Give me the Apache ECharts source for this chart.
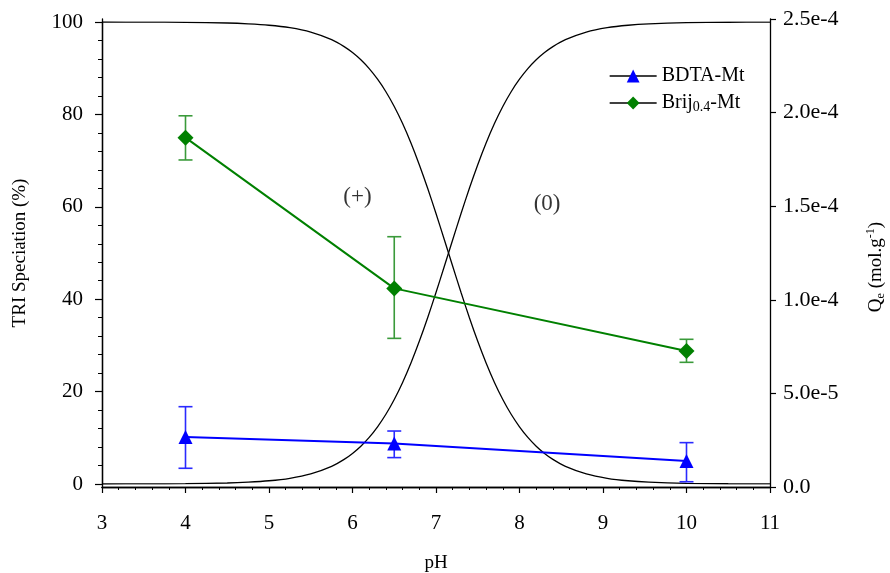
<!DOCTYPE html>
<html><head><meta charset="utf-8">
<script src="https://cdn.jsdelivr.net/npm/echarts@6/dist/echarts.min.js"></script>
<style>html,body{margin:0;padding:0;background:#fff;overflow:hidden}#c{width:890px;height:573px}</style>
</head><body><div id="c"></div>
<script>
// ---- data ----
var phCurve = [3, 3.5, 4, 4.5, 4.75, 5, 5.25, 5.5, 5.75, 5.9, 6, 6.1, 6.2, 6.3, 6.4, 6.5, 6.6, 6.7, 6.8, 6.9, 7, 7.1, 7.2, 7.3, 7.4, 7.5, 7.6, 7.7, 7.8, 7.9, 8, 8.1, 8.2, 8.3, 8.4, 8.55, 8.8, 9.05, 9.3, 9.55, 10, 10.5, 11];
var cationic = [100, 99.98, 99.93, 99.78, 99.6, 99.3, 98.76, 97.81, 96.17, 94.68, 93.39, 91.82, 89.91, 87.62, 84.91, 81.71, 78.02, 73.81, 69.12, 64.01, 58.55, 52.88, 47.12, 41.45, 35.99, 30.88, 26.19, 21.98, 18.29, 15.09, 12.38, 10.09, 8.18, 6.61, 5.32, 3.83, 2.19, 1.24, 0.7, 0.4, 0.14, 0.05, 0.01];
var neutral = [0, 0.02, 0.07, 0.22, 0.4, 0.7, 1.24, 2.19, 3.83, 5.32, 6.61, 8.18, 10.09, 12.38, 15.09, 18.29, 21.98, 26.19, 30.88, 35.99, 41.45, 47.12, 52.88, 58.55, 64.01, 69.12, 73.81, 78.02, 81.71, 84.91, 87.62, 89.91, 91.82, 93.39, 94.68, 96.17, 97.81, 98.76, 99.3, 99.6, 99.86, 99.95, 99.99];
var phSamples = [4, 6.5, 10];
var bdtaQe = [2.67e-5, 2.33e-5, 1.39e-5];
var bdtaLow = [1.00e-5, 1.57e-5, 0.28e-5];
var bdtaHigh = [4.29e-5, 2.99e-5, 2.37e-5];
var brijQe = [18.66e-5, 10.61e-5, 7.26e-5];
var brijLow = [17.47e-5, 7.94e-5, 6.66e-5];
var brijHigh = [19.83e-5, 13.37e-5, 7.89e-5];
var xTickLabels = ['3','4','5','6','7','8','9','10','11'];
var leftTickLabels = ['0','20','40','60','80','100'];
var rightTickLabels = ['0.0','5.0e-5','1.0e-4','1.5e-4','2.0e-4','2.5e-4'];
var regionLabels = [[6.06, 62.1, '(+)'], [8.33, 60.6, '(0)']];

var FONT = 'Liberation Serif';
function pairs(xs, ys){ return xs.map(function(x,i){ return [x, ys[i]]; }); }
function errData(xs, lo, hi){ return xs.map(function(x,i){ return [x, lo[i], hi[i]]; }); }
function errRender(color){
  return function(params, api){
    var x = api.value(0);
    var p1 = api.coord([x, api.value(1)]);
    var p2 = api.coord([x, api.value(2)]);
    var hw = 7;
    var st = {stroke: color, lineWidth: 1.6};
    return {type:'group', children:[
      {type:'line', shape:{x1:p1[0], y1:p1[1], x2:p2[0], y2:p2[1]}, style:st},
      {type:'line', shape:{x1:p1[0]-hw, y1:p1[1], x2:p1[0]+hw, y2:p1[1]}, style:st},
      {type:'line', shape:{x1:p2[0]-hw, y1:p2[1], x2:p2[0]+hw, y2:p2[1]}, style:st}
    ]};
  };
}

var chart = echarts.init(document.getElementById('c'), null, {renderer:'canvas'});
var axisLineStyle = {color:'#000', width:1.3};
var option = {
  animation:false,
  backgroundColor:'#fff',
  textStyle:{fontFamily:FONT},
  grid:[
    {left:102, right:120, top:19, bottom:86, containLabel:false, outerBoundsMode:'none'},
    {left:102, right:120, top:22, bottom:89, containLabel:false, outerBoundsMode:'none'}
  ],
  legend:{
    orient:'vertical', left:604, top:61, itemWidth:47, itemHeight:16, itemGap:7,
    textStyle:{fontFamily:FONT, fontSize:20, color:'#000',
      rich:{t:{fontFamily:FONT, fontSize:20, color:'#000'}, sub:{fontFamily:FONT, fontSize:14, color:'#000', verticalAlign:'bottom', padding:[9,0,0,0]}}},
    formatter:function(n){ return n === 'Brij0.4-Mt' ? '{t|Brij}{sub|0.4}{t|-Mt}' : '{t|' + n + '}'; },
    data:[
      {name:'BDTA-Mt', lineStyle:{color:'#000', width:1.3}},
      {name:'Brij0.4-Mt', lineStyle:{color:'#000', width:1.3}}
    ]
  },
  xAxis:[
    {gridIndex:0, type:'value', min:3, max:11, interval:1, position:'bottom',
      name:'pH', nameLocation:'middle', nameGap:67, nameTextStyle:{fontFamily:FONT, fontSize:19, color:'#000'},
      axisLine:{show:true, lineStyle:axisLineStyle},
      axisTick:{show:true, inside:false, length:6, lineStyle:{color:'#000', width:1.2}},
      minorTick:{show:true, splitNumber:5, length:3, lineStyle:{color:'#000', width:1}},
      axisLabel:{margin:26, fontFamily:FONT, fontSize:21, color:'#000',
        formatter:function(v){ return xTickLabels[Math.round(v-3)]; }},
      splitLine:{show:false}},
    {gridIndex:0, type:'value', min:3, max:11, position:'top',
      axisLine:{show:true, lineStyle:axisLineStyle}, axisTick:{show:false}, axisLabel:{show:false}, splitLine:{show:false}},
    {gridIndex:1, type:'value', min:3, max:11, show:false}
  ],
  yAxis:[
    {gridIndex:1, type:'value', min:0, max:100, interval:20, position:'left',
      name:'TRI Speciation (%)', nameLocation:'middle', nameGap:72, nameRotate:90,
      nameTextStyle:{fontFamily:FONT, fontSize:19, color:'#000'},
      axisLine:{show:true, lineStyle:axisLineStyle},
      axisTick:{show:true, inside:false, length:7, lineStyle:{color:'#000', width:1.2}},
      minorTick:{show:true, splitNumber:5, length:4, lineStyle:{color:'#000', width:1}},
      axisLabel:{margin:19, fontFamily:FONT, fontSize:21, color:'#000',
        formatter:function(v){ return leftTickLabels[Math.round(v/20)]; }},
      splitLine:{show:false}},
    {gridIndex:0, type:'value', min:0, max:2.5e-4, interval:5e-5, position:'right',
      name:'{t|Q}{sub|e}{t| (mol.g}{sup|-1}{t|)}', nameLocation:'middle', nameGap:95, nameRotate:90,
      nameTextStyle:{fontFamily:FONT, fontSize:19, color:'#000', padding:[0,28,0,0],
        rich:{t:{fontFamily:FONT, fontSize:19, color:'#000'},
              sub:{fontFamily:FONT, fontSize:12, color:'#000', verticalAlign:'bottom', padding:[10,0,0,0]},
              sup:{fontFamily:FONT, fontSize:12, color:'#000', verticalAlign:'top', padding:[0,0,10,0]}}},
      axisLine:{show:true, lineStyle:axisLineStyle},
      axisTick:{show:true, inside:false, length:6, lineStyle:{color:'#000', width:1.2}},
      minorTick:{show:false},
      axisLabel:{margin:13, fontFamily:FONT, fontSize:22, color:'#000',
        formatter:function(v){ return rightTickLabels[Math.round(v/5e-5)]; }},
      splitLine:{show:false}},
    {gridIndex:0, type:'value', min:0, max:1, position:'left',
      axisLine:{show:true, lineStyle:axisLineStyle}, axisTick:{show:false}, axisLabel:{show:false}, splitLine:{show:false}}
  ],
  series:[
    {name:'cationic', type:'line', xAxisIndex:2, yAxisIndex:0, data:pairs(phCurve, cationic),
      smooth:0.3, showSymbol:false, symbol:'none', lineStyle:{color:'#000', width:1.3}, z:1},
    {name:'neutral', type:'line', xAxisIndex:2, yAxisIndex:0, data:pairs(phCurve, neutral),
      smooth:0.3, showSymbol:false, symbol:'none', lineStyle:{color:'#000', width:1.3}, z:1},
    {name:'labels', type:'scatter', xAxisIndex:2, yAxisIndex:0, symbolSize:0, data:regionLabels,
      label:{show:true, position:'inside', fontFamily:FONT, fontSize:23, color:'#000', formatter:function(p){ return p.data[2]; }}},
    {name:'BDTA-err', type:'custom', xAxisIndex:0, yAxisIndex:1, renderItem:errRender('#2a2aff'),
      data:errData(phSamples, bdtaLow, bdtaHigh), encode:{x:0, y:[1,2]}, z:3},
    {name:'Brij-err', type:'custom', xAxisIndex:0, yAxisIndex:1, renderItem:errRender('#3a9a3a'),
      data:errData(phSamples, brijLow, brijHigh), encode:{x:0, y:[1,2]}, z:3},
    {name:'BDTA-Mt', type:'line', xAxisIndex:0, yAxisIndex:1, data:pairs(phSamples, bdtaQe),
      symbol:'triangle', symbolSize:14, showAllSymbol:true,
      itemStyle:{color:'#0000ff'}, lineStyle:{color:'#0000ff', width:2}, z:4},
    {name:'Brij0.4-Mt', type:'line', xAxisIndex:0, yAxisIndex:1, data:pairs(phSamples, brijQe),
      symbol:'diamond', symbolSize:16, showAllSymbol:true,
      itemStyle:{color:'#008000'}, lineStyle:{color:'#008000', width:2}, z:4}
  ]
};
chart.setOption(option);
</script>
</body></html>
